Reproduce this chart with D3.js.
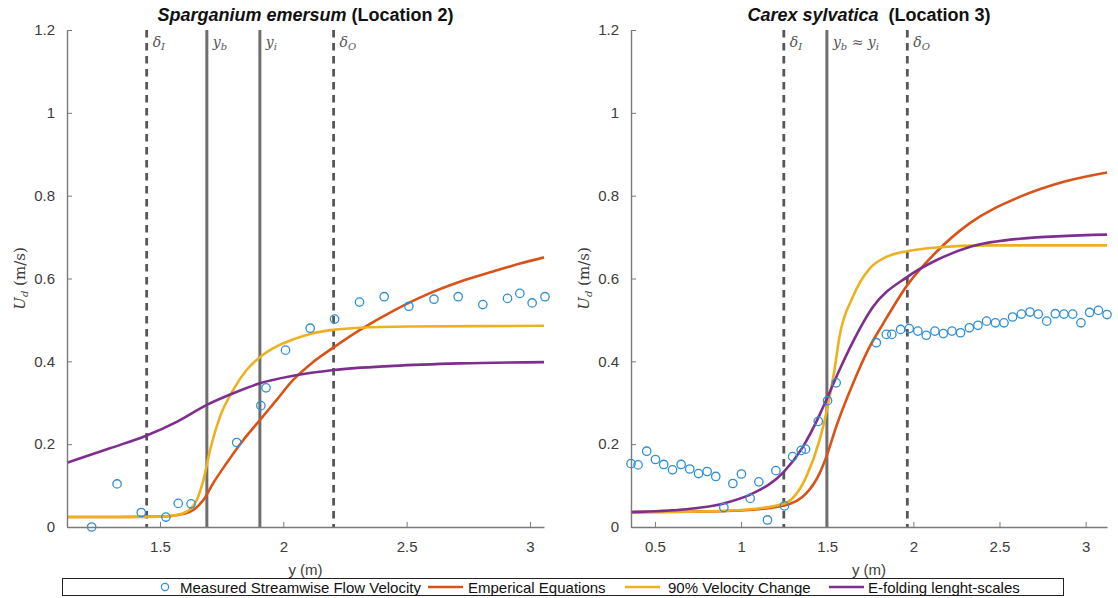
<!DOCTYPE html>
<html>
<head>
<meta charset="utf-8">
<script src="https://cdn.jsdelivr.net/npm/d3@7"></script>
<style>
  html, body { margin: 0; padding: 0; background: #fff; }
  svg { display: block; }
</style>
</head>
<body>
<svg id="chart" width="1118" height="598"></svg>
<script>
// ---------- DATA ----------
// Left panel: Sparganium emersum (Location 2)
const leftMeasuredX = [1.223, 1.326, 1.424, 1.524, 1.574, 1.626, 1.811, 1.909, 1.930, 2.009, 2.109, 2.208, 2.309, 2.409, 2.509, 2.611, 2.709, 2.809, 2.909, 2.959, 3.009, 3.061];
const leftMeasuredU = [0.000, 0.104, 0.035, 0.024, 0.057, 0.056, 0.204, 0.293, 0.336, 0.427, 0.480, 0.502, 0.543, 0.556, 0.533, 0.550, 0.556, 0.537, 0.552, 0.564, 0.541, 0.556];

const leftEmpX = [1.123, 1.30, 1.50, 1.60, 1.635, 1.676, 1.716, 1.770, 1.838, 1.905, 1.973, 2.040, 2.120, 2.200, 2.311, 2.446, 2.581, 2.716, 2.851, 2.960, 3.057];
const leftEmpU = [0.024, 0.024, 0.025, 0.032, 0.041, 0.065, 0.106, 0.154, 0.210, 0.258, 0.307, 0.355, 0.398, 0.432, 0.476, 0.522, 0.561, 0.592, 0.617, 0.636, 0.651];

const left90X = [1.123, 1.30, 1.50, 1.560, 1.608, 1.649, 1.676, 1.703, 1.743, 1.797, 1.851, 1.905, 1.973, 2.040, 2.121, 2.203, 2.311, 2.513, 2.800, 3.057];
const left90U = [0.024, 0.024, 0.025, 0.028, 0.037, 0.065, 0.113, 0.186, 0.266, 0.331, 0.379, 0.410, 0.436, 0.453, 0.468, 0.476, 0.481, 0.484, 0.485, 0.486];

const leftEfX = [1.123, 1.297, 1.446, 1.568, 1.690, 1.797, 1.905, 2.040, 2.204, 2.446, 2.716, 3.057];
const leftEfU = [0.155, 0.190, 0.221, 0.254, 0.295, 0.323, 0.347, 0.365, 0.379, 0.389, 0.395, 0.398];

// Right panel: Carex sylvatica (Location 3)
const rightMeasuredX = [0.361, 0.402, 0.452, 0.503, 0.551, 0.602, 0.652, 0.702, 0.753, 0.803, 0.853, 0.900, 0.952, 1.002, 1.053, 1.103, 1.153, 1.202, 1.252, 1.299, 1.349, 1.374, 1.448, 1.502, 1.552, 1.785, 1.843, 1.875, 1.926, 1.976, 2.026, 2.075, 2.125, 2.174, 2.224, 2.274, 2.325, 2.375, 2.425, 2.476, 2.526, 2.576, 2.627, 2.677, 2.725, 2.774, 2.824, 2.874, 2.925, 2.973, 3.023, 3.074, 3.124];
const rightMeasuredU = [0.153, 0.150, 0.183, 0.163, 0.151, 0.138, 0.151, 0.140, 0.129, 0.134, 0.122, 0.047, 0.105, 0.128, 0.069, 0.109, 0.017, 0.136, 0.051, 0.170, 0.185, 0.188, 0.255, 0.305, 0.348, 0.445, 0.465, 0.465, 0.477, 0.479, 0.473, 0.463, 0.473, 0.467, 0.473, 0.469, 0.481, 0.487, 0.497, 0.493, 0.493, 0.507, 0.514, 0.519, 0.514, 0.497, 0.515, 0.514, 0.514, 0.493, 0.518, 0.523, 0.513];

const rightEmpX = [0.36, 0.70, 1.00, 1.252, 1.378, 1.455, 1.498, 1.552, 1.649, 1.746, 1.823, 1.965, 2.133, 2.326, 2.617, 2.868, 3.124];
const rightEmpU = [0.036, 0.037, 0.040, 0.052, 0.081, 0.129, 0.173, 0.242, 0.346, 0.435, 0.490, 0.584, 0.664, 0.733, 0.797, 0.833, 0.856];

const right90X = [0.36, 0.70, 1.00, 1.252, 1.378, 1.455, 1.498, 1.542, 1.571, 1.649, 1.746, 1.843, 1.965, 2.133, 2.423, 3.124];
const right90U = [0.036, 0.037, 0.041, 0.057, 0.121, 0.209, 0.282, 0.379, 0.459, 0.556, 0.624, 0.652, 0.666, 0.675, 0.680, 0.680];

const rightEfX = [0.361, 0.681, 0.900, 1.068, 1.248, 1.358, 1.455, 1.498, 1.571, 1.649, 1.765, 1.965, 2.133, 2.326, 2.617, 3.124];
const rightEfU = [0.036, 0.043, 0.057, 0.081, 0.133, 0.193, 0.270, 0.310, 0.379, 0.447, 0.531, 0.604, 0.644, 0.676, 0.696, 0.706];

// vertical reference lines
const leftRefX = [1.446, 1.690, 1.905, 2.204];
const leftRefDashed = [true, false, false, true];
const leftRefLabels = [["δ", "I"], ["y", "b"], ["y", "i"], ["δ", "O"]];
const rightRefX = [1.248, 1.498, 1.965];
const rightRefDashed = [true, false, true];
const rightRefLabels = [["δ", "I"], ["y", "b", " ≈ y", "i"], ["δ", "O"]];

const yTicks = [0, 0.2, 0.4, 0.6, 0.8, 1, 1.2];
const leftXTicks = [1.5, 2, 2.5, 3];
const rightXTicks = [0.5, 1, 1.5, 2, 2.5, 3];

const legendLabels = ["Measured Streamwise Flow Velocity", "Emperical Equations", "90% Velocity Change", "E-folding lenght-scales"];

// ---------- STYLE ----------
const C_BLUE = "#2f8fd6";
const C_RED = "#D95319";
const C_YEL = "#EDB120";
const C_PUR = "#7E2F8E";
const C_AXIS = "#7a7a7a";
const C_TXT = "#3c3c3c";

const svg = d3.select("#chart");

function panel(cfg) {
  const x = d3.scaleLinear().domain(cfg.xDomain).range([cfg.left, cfg.right]);
  const y = d3.scaleLinear().domain([0, 1.2]).range([cfg.bottom, cfg.top]);
  const g = svg.append("g");

  // reference lines
  cfg.refX.forEach((v, i) => {
    g.append("line")
      .attr("x1", x(v)).attr("x2", x(v))
      .attr("y1", y(1.2)).attr("y2", y(0))
      .attr("stroke", cfg.refDashed[i] ? "#575757" : "#6e6e6e")
      .attr("stroke-width", cfg.refDashed[i] ? 2.8 : 3)
      .attr("stroke-dasharray", cfg.refDashed[i] ? "7.5,5.5" : null);
    const lab = cfg.refLabels[i];
    const t = g.append("text")
      .attr("x", x(v) + 6).attr("y", 47)
      .attr("font-family", "'DejaVu Serif', 'Liberation Serif', serif")
      .attr("font-style", "italic")
      .attr("font-size", 14)
      .attr("fill", "#555");
    for (let k = 0; k < lab.length; k += 2) {
      t.append("tspan").attr("dy", k === 0 ? 0 : -3).text(lab[k]);
      if (lab[k + 1] !== undefined) {
        t.append("tspan").attr("font-size", 10).attr("dy", 3).text(lab[k + 1]);
      }
    }
  });

  const line = d3.line().x(d => x(d[0])).y(d => y(d[1])).curve(d3.curveMonotoneX);
  const series = [
    [cfg.empX, cfg.empU, C_RED],
    [cfg.s90X, cfg.s90U, C_YEL],
    [cfg.efX, cfg.efU, C_PUR]
  ];
  series.forEach(([xs, us, col]) => {
    g.append("path")
      .datum(xs.map((v, i) => [v, us[i]]))
      .attr("d", line)
      .attr("fill", "none")
      .attr("stroke", col)
      .attr("stroke-width", 2.6)
      .attr("stroke-linejoin", "round");
  });

  g.selectAll("circle.m").data(cfg.mX.map((v, i) => [v, cfg.mU[i]])).enter()
    .append("circle")
    .attr("cx", d => x(d[0])).attr("cy", d => y(d[1]))
    .attr("r", 4.2)
    .attr("fill", "none")
    .attr("stroke", C_BLUE)
    .attr("stroke-width", 1.3);

  // axes
  const xAxis = d3.axisBottom(x).tickValues(cfg.xTicks).tickSizeInner(-5).tickSizeOuter(0).tickPadding(14)
    .tickFormat(d3.format("~g"));
  const yAxis = d3.axisLeft(y).tickValues(yTicks).tickSizeInner(-5).tickSizeOuter(0).tickPadding(12)
    .tickFormat(d3.format("~g"));
  const gx = g.append("g").attr("transform", `translate(0,${cfg.bottom})`).call(xAxis);
  const gy = g.append("g").attr("transform", `translate(${cfg.left},0)`).call(yAxis);
  [gx, gy].forEach(a => {
    a.select(".domain").attr("stroke", C_AXIS).attr("stroke-width", 1.4);
    a.selectAll(".tick line").attr("stroke", C_AXIS).attr("stroke-width", 1);
    a.selectAll(".tick text").attr("fill", C_TXT)
      .attr("font-family", "'Liberation Sans', Arial, sans-serif").attr("font-size", 15);
  });
  gx.selectAll(".tick text").attr("dy", "0.71em");

  // title
  const title = g.append("text")
    .attr("x", (cfg.left + cfg.right) / 2).attr("y", 21)
    .attr("text-anchor", "middle")
    .attr("font-family", "'Liberation Sans', Arial, sans-serif")
    .attr("font-weight", "bold").attr("font-size", 18).attr("fill", "#111")
    .attr("xml:space", "preserve");
  title.append("tspan").attr("font-style", "italic").text(cfg.titleItalic);
  title.append("tspan").text(cfg.titleRest);

  // x label
  g.append("text")
    .attr("x", (cfg.left + cfg.right) / 2).attr("y", 575)
    .attr("text-anchor", "middle")
    .attr("font-family", "'Liberation Sans', Arial, sans-serif")
    .attr("font-size", 15).attr("fill", C_TXT)
    .text("y (m)");

  // y label
  const yl = g.append("text")
    .attr("transform", `translate(${cfg.left - 42},${(cfg.top + cfg.bottom) / 2}) rotate(-90)`)
    .attr("text-anchor", "middle")
    .attr("font-family", "'DejaVu Serif', 'Liberation Serif', serif")
    .attr("font-size", 15).attr("fill", C_TXT);
  yl.append("tspan").attr("font-style", "italic").text("U");
  yl.append("tspan").attr("font-style", "italic").attr("font-size", 10).attr("dy", 3).text("d");
  yl.append("tspan").attr("dy", -3).text(" (m/s)");
}

panel({
  xDomain: [1.123, 3.057], left: 67, right: 544, top: 30, bottom: 527,
  mX: leftMeasuredX, mU: leftMeasuredU,
  empX: leftEmpX, empU: leftEmpU, s90X: left90X, s90U: left90U, efX: leftEfX, efU: leftEfU,
  refX: leftRefX, refDashed: leftRefDashed, refLabels: leftRefLabels,
  xTicks: leftXTicks, titleItalic: "Sparganium emersum", titleRest: " (Location 2)"
});
panel({
  xDomain: [0.361, 3.124], left: 631, right: 1107, top: 30, bottom: 527,
  mX: rightMeasuredX, mU: rightMeasuredU,
  empX: rightEmpX, empU: rightEmpU, s90X: right90X, s90U: right90U, efX: rightEfX, efU: rightEfU,
  refX: rightRefX, refDashed: rightRefDashed, refLabels: rightRefLabels,
  xTicks: rightXTicks, titleItalic: "Carex sylvatica", titleRest: "  (Location 3)"
});

// ---------- LEGEND ----------
const lg = svg.append("g");
lg.append("rect").attr("x", 62.5).attr("y", 578.5).attr("width", 1001).attr("height", 17)
  .attr("fill", "#fff").attr("stroke", "#222").attr("stroke-width", 1);
const legendItems = [
  { type: "circle", color: C_BLUE, sx: 158, tx: 180 },
  { type: "line", color: C_RED, sx: 428, tx: 468 },
  { type: "line", color: C_YEL, sx: 625, tx: 668 },
  { type: "line", color: C_PUR, sx: 829, tx: 868 }
];
legendItems.forEach((it, i) => {
  if (it.type === "circle") {
    lg.append("circle").attr("cx", it.sx + 7).attr("cy", 587).attr("r", 3.6)
      .attr("fill", "none").attr("stroke", it.color).attr("stroke-width", 1.2);
  } else {
    lg.append("line").attr("x1", it.sx).attr("x2", it.sx + 35).attr("y1", 587).attr("y2", 587)
      .attr("stroke", it.color).attr("stroke-width", 2.6);
  }
  lg.append("text").attr("x", it.tx).attr("y", 592.5)
    .attr("font-family", "'Liberation Sans', Arial, sans-serif")
    .attr("font-size", 15).attr("fill", "#111")
    .text(legendLabels[i]);
});
</script>
</body>
</html>
